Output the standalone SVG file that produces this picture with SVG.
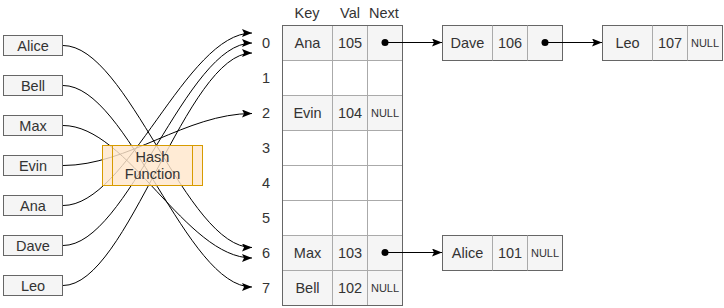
<svg xmlns="http://www.w3.org/2000/svg" width="724" height="308" viewBox="0 0 724 308">
<defs>
<marker id="arr" markerUnits="userSpaceOnUse" markerWidth="11" markerHeight="9" refX="10" refY="4" orient="auto">
<path d="M0,0 L10,4 L0,8 L2,4 z" fill="#000"/>
</marker>
<style>
text{font-family:"Liberation Sans",Arial,sans-serif;font-size:14.5px;fill:#333;text-anchor:middle}
.sm{font-size:11px}
.box{fill:#f5f5f5;stroke:#666;stroke-width:1}
.grid{stroke:#aaa;stroke-width:1;fill:none}
.edge{fill:none;stroke:#000;stroke-width:1;marker-end:url(#arr)}
</style>
</defs>
<rect width="724" height="308" fill="#fff"/>

<g id="key-alice"><rect class="box" x="3.5" y="35.5" width="59" height="20"/><text x="33" y="50.5">Alice</text></g>
<g id="key-bell"><rect class="box" x="3.5" y="75.5" width="59" height="20"/><text x="33" y="90.5">Bell</text></g>
<g id="key-max"><rect class="box" x="3.5" y="115.5" width="59" height="20"/><text x="33" y="130.5">Max</text></g>
<g id="key-evin"><rect class="box" x="3.5" y="155.5" width="59" height="20"/><text x="33" y="170.5">Evin</text></g>
<g id="key-ana"><rect class="box" x="3.5" y="195.5" width="59" height="20"/><text x="33" y="210.5">Ana</text></g>
<g id="key-dave"><rect class="box" x="3.5" y="235.5" width="59" height="20"/><text x="33" y="250.5">Dave</text></g>
<g id="key-leo"><rect class="box" x="3.5" y="275.5" width="59" height="20"/><text x="33" y="290.5">Leo</text></g>

<g id="hash-table">
<text x="307" y="18">Key</text>
<text x="350" y="18">Val</text>
<text x="384" y="18">Next</text>
<rect x="282.5" y="25.5" width="120" height="35" fill="#f5f5f5"/>
<rect x="282.5" y="95.5" width="120" height="35" fill="#f5f5f5"/>
<rect x="282.5" y="235.5" width="120" height="70" fill="#f5f5f5"/>
<path class="grid" d="M282.5,60.5H402.5M282.5,95.5H402.5M282.5,130.5H402.5M282.5,165.5H402.5M282.5,200.5H402.5M282.5,235.5H402.5M282.5,270.5H402.5M332.5,25.5V305.5M367.5,25.5V305.5"/>
<rect x="282.5" y="25.5" width="120" height="280" fill="none" stroke="#666"/>
<text x="266" y="48">0</text>
<text x="266" y="83">1</text>
<text x="266" y="118">2</text>
<text x="266" y="153">3</text>
<text x="266" y="188">4</text>
<text x="266" y="223">5</text>
<text x="266" y="258">6</text>
<text x="266" y="293">7</text>
<text x="307.5" y="48">Ana</text><text x="350" y="48">105</text>
<text x="307.5" y="118">Evin</text><text x="350" y="118">104</text><text class="sm" x="385" y="117">NULL</text>
<text x="307.5" y="258">Max</text><text x="350" y="258">103</text>
<text x="307.5" y="293">Bell</text><text x="350" y="293">102</text><text class="sm" x="385" y="292">NULL</text>
</g>

<g id="node-dave">
<rect class="box" x="442.5" y="25.5" width="120" height="35"/>
<path class="grid" d="M492.5,25.5V60.5M527.5,25.5V60.5"/>
<text x="467.5" y="48">Dave</text><text x="510" y="48">106</text>
</g>
<g id="node-leo">
<rect class="box" x="602.5" y="25.5" width="120" height="35"/>
<path class="grid" d="M652.5,25.5V60.5M687.5,25.5V60.5"/>
<text x="627.5" y="48">Leo</text><text x="670" y="48">107</text><text class="sm" x="705" y="47">NULL</text>
</g>
<g id="node-alice">
<rect class="box" x="442.5" y="235.5" width="120" height="35"/>
<path class="grid" d="M492.5,235.5V270.5M527.5,235.5V270.5"/>
<text x="467.5" y="258">Alice</text><text x="510" y="258">101</text><text class="sm" x="545" y="257">NULL</text>
</g>

<g id="connectors">
<path class="edge" d="M63,45.5 C128,45.5 186,247.5 252,247.5"/>
<path class="edge" d="M63,85.5 C128,85.5 186,287 252,287"/>
<path class="edge" d="M63,125.5 C128,125.5 186,258 252,258"/>
<path class="edge" d="M63,165.5 C128,165.5 186,113.5 252,113.5"/>
<path class="edge" d="M63,205.5 C128,205.5 186,33 252,33"/>
<path class="edge" d="M63,245.5 C128,245.5 186,43 252,43"/>
<path class="edge" d="M63,285.5 C128,285.5 186,53 252,53"/>
<circle cx="385" cy="42.5" r="3.5" fill="#000"/>
<path class="edge" d="M385,42.5 L442,42.5"/>
<circle cx="385" cy="252.5" r="3.5" fill="#000"/>
<path class="edge" d="M385,252.5 L442,252.5"/>
<circle cx="545" cy="42.5" r="3.5" fill="#000"/>
<path class="edge" d="M545,42.5 L602,42.5"/>
</g>

<g id="hash-function">
<rect x="102.5" y="145.5" width="100" height="40" fill="#ffe6cc" fill-opacity="0.82" stroke="#d79b00"/>
<line x1="112.5" y1="145.5" x2="112.5" y2="185.5" stroke="#d79b00"/>
<line x1="192.5" y1="145.5" x2="192.5" y2="185.5" stroke="#d79b00"/>
<text x="152.5" y="161.5">Hash</text>
<text x="152.5" y="179">Function</text>
</g>
</svg>
